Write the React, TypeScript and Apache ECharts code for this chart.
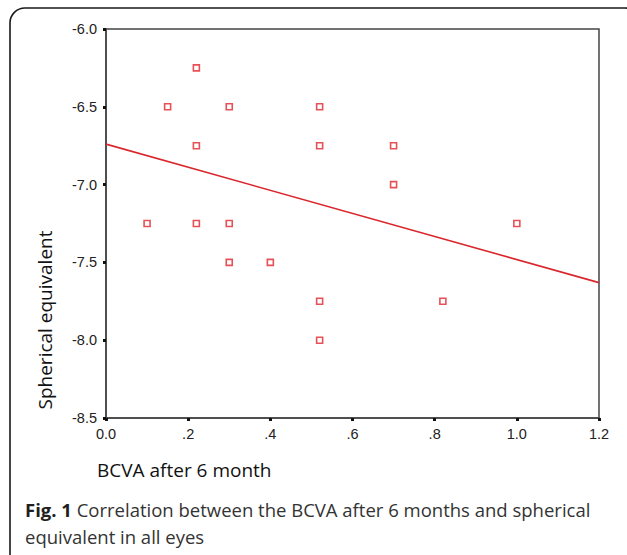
import React, { useEffect, useRef } from "react";
import * as echarts from "echarts";

const xTicks = ["0.0", ".2", ".4", ".6", ".8", "1.0", "1.2"];
const bcva = [0.1, 0.15, 0.22, 0.22, 0.22, 0.3, 0.3, 0.3, 0.4, 0.52, 0.52, 0.52, 0.52, 0.7, 0.7, 0.82, 1.0];
const sphEq = [-7.25, -6.5, -6.25, -6.75, -7.25, -6.5, -7.25, -7.5, -7.5, -6.5, -6.75, -7.75, -8.0, -6.75, -7.0, -7.75, -7.25];
const fitX = [0, 1.2];
const fitY = [-6.74, -7.63];

const xName = "BCVA after 6 month";
const yName = "Spherical equivalent";
const captionBold = "Fig. 1";
const captionLine1 = " Correlation between the BCVA after 6 months and spherical";
const captionLine2 = "equivalent in all eyes";

export default function App() {
  const ref = useRef<HTMLDivElement>(null);
  useEffect(() => {
    if (!ref.current) return;
    const chart = echarts.init(ref.current, null, { renderer: "svg" });
    const pts = bcva.map((x, i) => [x, sphEq[i]]);
    const fit = fitX.map((x, i) => [x, fitY[i]]);
    const capFont = "Open Sans, Noto Sans, sans-serif";
    chart.setOption({
      animation: false,
      backgroundColor: "#ffffff",
      grid: {
        left: 106,
        top: 29,
        right: 28,
        bottom: 137,
        show: true,
        borderColor: "#444",
        borderWidth: 1.5,
      },
      xAxis: {
        type: "value",
        min: 0,
        max: 1.2,
        interval: 0.2,
        splitLine: { show: false },
        axisLine: { show: true, onZero: false, lineStyle: { color: "#444", width: 1.5 } },
        axisTick: { show: true, length: 3, lineStyle: { color: "#111", width: 3 } },
        axisLabel: {
          margin: 8,
          fontFamily: "Liberation Sans, Arial, sans-serif",
          fontSize: 14.5,
          color: "#222",
          formatter: (v: number) => xTicks[Math.round(v / 0.2)] ?? "",
        },
      },
      yAxis: {
        type: "value",
        min: -8.5,
        max: -6.0,
        interval: 0.5,
        splitLine: { show: false },
        axisLine: { show: true, onZero: false, lineStyle: { color: "#444", width: 1.5 } },
        axisTick: { show: true, length: 3, lineStyle: { color: "#111", width: 3 } },
        axisLabel: {
          margin: 9,
          fontFamily: "Liberation Sans, Arial, sans-serif",
          fontSize: 14.5,
          color: "#222",
          formatter: (v: number) => v.toFixed(1),
        },
      },
      series: [
        {
          type: "line",
          data: fit,
          showSymbol: false,
          symbol: "none",
          lineStyle: { color: "#d9272e", width: 1.6 },
          z: 2,
        },
        {
          type: "scatter",
          data: pts,
          symbol: "rect",
          symbolSize: 6,
          itemStyle: { color: "#ffffff", borderColor: "#e0262d", borderWidth: 1.6 },
          z: 3,
        },
      ],
      graphic: [
        {
          type: "rect",
          shape: { x: 10, y: 8, width: 630, height: 568, r: 15 },
          style: { fill: "none", stroke: "#1a1a1a", lineWidth: 1.6 },
          silent: true,
          z: -1,
        },
        {
          type: "text",
          x: 97,
          y: 470,
          style: {
            text: xName,
            fontFamily: capFont,
            fontSize: 19,
            fill: "#111",
            verticalAlign: "middle",
            align: "left",
          },
        },
        {
          type: "text",
          x: 45,
          y: 320,
          rotation: Math.PI / 2,
          style: {
            text: yName,
            fontFamily: capFont,
            fontSize: 19,
            fill: "#111",
            align: "center",
            verticalAlign: "middle",
          },
        },
        {
          type: "text",
          x: 25,
          y: 496,
          style: {
            text: "{b|" + captionBold + "}{n|" + captionLine1 + "}\n{n|" + captionLine2 + "}",
            fontFamily: capFont,
            fontSize: 18.5,
            fill: "#231f20",
            lineHeight: 27,
            rich: {
              b: {
                fontFamily: capFont,
                fontSize: 18.5,
                fontWeight: "bold",
                fill: "#231f20",
                lineHeight: 27,
              },
              n: {
                fontFamily: capFont,
                fontSize: 18.5,
                fill: "#333",
                lineHeight: 27,
              },
            },
          },
        },
      ],
    });
    return () => chart.dispose();
  }, []);
  return (
    <div
      ref={ref}
      style={{ position: "fixed", left: 0, top: 0, width: 627, height: 555 }}
    />
  );
}
